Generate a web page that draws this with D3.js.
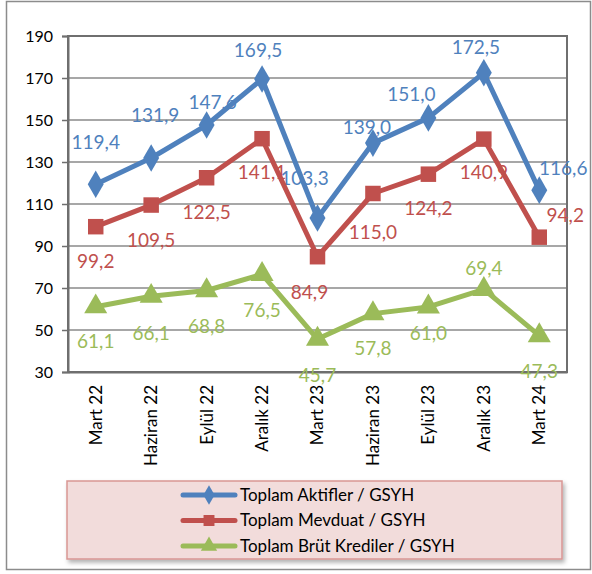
<!DOCTYPE html>
<html>
<head>
<meta charset="utf-8">
<script src="https://cdn.jsdelivr.net/npm/d3@7"></script>
<style>
  body { margin: 0; background: #fff; }
  svg text { font-family: Lato, "Noto Sans", sans-serif; }
</style>
</head>
<body>
<svg width="592" height="574"></svg>
<script>
// data
var categories = ["Mart 22", "Haziran 22", "Eylül 22", "Aralık 22", "Mart 23", "Haziran 23", "Eylül 23", "Aralık 23", "Mart 24"];
var aktifler = [119.4, 131.9, 147.6, 169.5, 103.3, 139.0, 151.0, 172.5, 116.6];
var mevduat = [99.2, 109.5, 122.5, 141.1, 84.9, 115.0, 124.2, 140.9, 94.2];
var krediler = [61.1, 66.1, 68.8, 76.5, 45.7, 57.8, 61.0, 69.4, 47.3];
var seriesNames = ["Toplam Aktifler / GSYH", "Toplam Mevduat / GSYH", "Toplam Brüt Krediler / GSYH"];
var yTicks = [30, 50, 70, 90, 110, 130, 150, 170, 190];

// label nudges (px) for each point, per series
var labelDx = [
  [0, 4, 6, -4, -13, -6, -17, -8, 24],
  [0, 0, 0, 0, -8, 0, 0, 0, 26],
  [0, 0, 0, 0, 0, 0, 0, 0, 0]
];
var labelDy = [
  [-42, -43, -23, -29, -40, -16, -24, -25, -22],
  [35, 35, 35, 34, 36, 39, 34, 33, -22],
  [35, 37, 36, 36, 36, 35, 26, -21, 36]
];

var svg = d3.select("svg"),
    margin = {left: 68, right: 25, top: 36, bottom: 202},
    width = 592 - margin.left - margin.right,
    height = 574 - margin.top - margin.bottom;

var colors = ["#4f81bd", "#c0504d", "#9bbb59"];
var symbols = [d3.symbolDiamond, d3.symbolSquare, d3.symbolTriangle];
var symSize = [220, 240, 230];

// outer frame
svg.append("rect")
    .attr("x", 6.5).attr("y", 1.5)
    .attr("width", 584).attr("height", 568)
    .attr("fill", "none")
    .attr("stroke", "#8c8c8c")
    .attr("stroke-width", 1.5);

var x = d3.scaleBand()
    .domain(categories)
    .range([0, width]);

var y = d3.scaleLinear()
    .domain([30, 190])
    .range([height, 0]);

var g = svg.append("g")
    .attr("transform", "translate(" + margin.left + "," + margin.top + ")");

// gridlines
g.append("g")
    .selectAll("line")
    .data(yTicks)
    .enter().append("line")
    .attr("x1", 0).attr("x2", width)
    .attr("y1", function (d) { return y(d); })
    .attr("y2", function (d) { return y(d); })
    .attr("stroke", "#8a8a8a")
    .attr("stroke-width", 1.5);

// plot border
g.append("rect")
    .attr("width", width).attr("height", height)
    .attr("fill", "none")
    .attr("stroke", "#6f6f6f")
    .attr("stroke-width", 2);

// y axis
var yAxis = g.append("g")
    .call(d3.axisLeft(y).tickValues(yTicks).tickSize(6).tickPadding(9));
yAxis.select(".domain").attr("stroke", "#6f6f6f").attr("stroke-width", 2);
yAxis.selectAll(".tick line").attr("stroke", "#6f6f6f").attr("stroke-width", 1.5);
yAxis.selectAll("text")
    .attr("font-size", 16)
    .attr("fill", "#000");

// x axis
var xAxis = g.append("g")
    .attr("transform", "translate(0," + height + ")")
    .call(d3.axisBottom(x).tickSize(0));
xAxis.select(".domain").attr("stroke", "#6f6f6f").attr("stroke-width", 2);
xAxis.selectAll("text")
    .attr("font-size", 17)
    .attr("fill", "#000")
    .attr("text-anchor", "end")
    .attr("transform", "rotate(-90)")
    .attr("x", -13)
    .attr("y", 0)
    .attr("dy", "0.35em");

var allSeries = [aktifler, mevduat, krediler];

function px(i) { return x(categories[i]) + x.bandwidth() / 2; }

// data labels first, the lines are drawn over them like in the original
allSeries.forEach(function (vals, s) {
    g.append("g")
        .selectAll("text")
        .data(vals)
        .enter().append("text")
        .attr("x", function (d, i) { return px(i) + labelDx[s][i]; })
        .attr("y", function (d, i) { return y(d) + labelDy[s][i]; })
        .attr("dy", "0.35em")
        .attr("text-anchor", "middle")
        .attr("font-size", 19)
        .attr("fill", colors[s])
        .text(function (d) { return d3.format(".1f")(d).replace(".", ","); });
});

var line = d3.line()
    .x(function (d, i) { return px(i); })
    .y(function (d) { return y(d); });

allSeries.forEach(function (vals, s) {
    g.append("path")
        .datum(vals)
        .attr("fill", "none")
        .attr("stroke", colors[s])
        .attr("stroke-width", 5)
        .attr("stroke-linejoin", "round")
        .attr("d", line);

    g.append("g")
        .selectAll("path")
        .data(vals)
        .enter().append("path")
        .attr("d", d3.symbol().type(symbols[s]).size(symSize[s]))
        .attr("fill", colors[s])
        .attr("transform", function (d, i) {
            return "translate(" + px(i) + "," + y(d) + ")";
        });
});

// legend
var defs = svg.append("defs");
var shadow = defs.append("filter").attr("id", "shadow")
    .attr("x", "-5%").attr("y", "-10%").attr("width", "115%").attr("height", "130%");
shadow.append("feDropShadow")
    .attr("dx", 2).attr("dy", 3).attr("stdDeviation", 2)
    .attr("flood-color", "#000").attr("flood-opacity", 0.3);

var legend = svg.append("g").attr("transform", "translate(67,481)");
legend.append("rect")
    .attr("width", 495).attr("height", 78)
    .attr("fill", "#f2dcdb")
    .attr("stroke", "#d99694")
    .attr("stroke-width", 1.5)
    .attr("filter", "url(#shadow)");

var items = legend.selectAll(".item")
    .data(seriesNames)
    .enter().append("g")
    .attr("class", "item")
    .attr("transform", function (d, i) { return "translate(0," + (14 + i * 25.5) + ")"; });

items.append("line")
    .attr("x1", 116).attr("x2", 168)
    .attr("stroke", function (d, i) { return colors[i]; })
    .attr("stroke-width", 5)
    .attr("stroke-linecap", "round");

items.append("path")
    .attr("d", function (d, i) { return d3.symbol().type(symbols[i]).size(symSize[i] * 0.5)(); })
    .attr("transform", "translate(142,0)")
    .attr("fill", function (d, i) { return colors[i]; });

items.append("text")
    .attr("x", 173)
    .attr("dy", "0.35em")
    .attr("font-size", 17)
    .attr("fill", "#000")
    .text(function (d) { return d; });
</script>
</body>
</html>
